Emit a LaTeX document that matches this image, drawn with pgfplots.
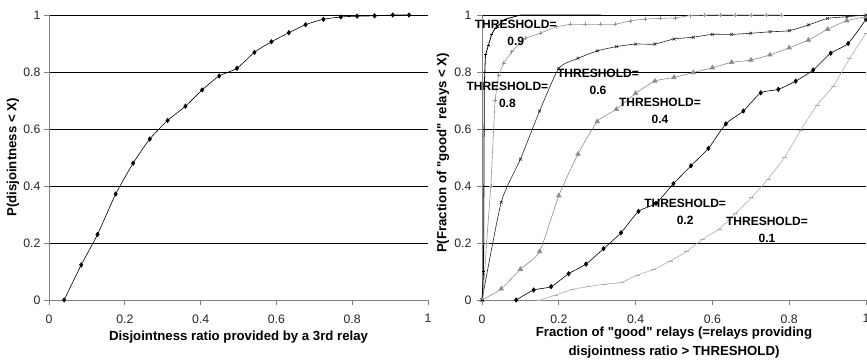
\documentclass[border=0pt]{standalone}
\usepackage{fontspec}
\setmainfont{Liberation Sans}[Ligatures=TeXOff]
\usepackage{pgfplots}
\pgfplotsset{compat=1.18}
\tikzset{thr/.style={font=\bfseries\fontsize{12}{17}\selectfont, align=center, inner sep=0pt}}
\pgfplotsset{
  myaxis/.style={
    scale only axis, anchor=south west, height=285pt,
    xmin=0, xmax=1, ymin=0, ymax=1,
    axis x line*=bottom, axis y line*=left,
    axis line style={draw=black!50, line width=0.8pt},
    xtick={0,0.2,0.4,0.6,0.8,1}, xticklabels={0,0.2,0.4,0.6,0.8,1},
    ytick={0,0.2,0.4,0.6,0.8,1}, yticklabels={0,0.2,0.4,0.6,0.8,1},
    tick align=outside, major tick length=5pt,
    tick style={draw=black!50, line width=0.8pt},
    ymajorgrids, major grid style={black, line width=0.6pt},
    ticklabel style={font=\fontsize{12.3}{14}\selectfont, text=black!85},
    xticklabel style={yshift=-6pt},
    label style={font=\bfseries\fontsize{13.2}{19}\selectfont},
    clip=false,
  },
}
\begin{document}
\begin{tikzpicture}
\path[use as bounding box] (0pt,0pt) rectangle (867pt,359pt);
\begin{axis}[myaxis, at={(49pt,59pt)}, width=379pt,
  xlabel={Disjointness ratio provided by a 3rd relay},
  ylabel={P(disjointness < X)},
  yticklabel style={xshift=0pt},
  xlabel style={at={(axis description cs:0.5,-0.13)}, anchor=center},
  ylabel style={at={(axis description cs:-0.095,0.5)}, anchor=center},
]
\addplot[black, line width=0.6pt, smooth, tension=0.35, mark=diamond*, mark size=2.2pt] coordinates {
(0.04,0) (0.085,0.123) (0.128,0.23) (0.176,0.372) (0.222,0.48) (0.266,0.565)
(0.313,0.63) (0.36,0.68) (0.404,0.737) (0.449,0.786) (0.496,0.813) (0.542,0.869)
(0.587,0.906) (0.633,0.938) (0.677,0.966) (0.724,0.985) (0.77,0.993) (0.813,0.996)
(0.859,0.997) (0.907,1) (0.95,1)};
\end{axis}
\begin{axis}[myaxis, at={(482pt,59pt)}, width=384pt,
  xlabel={Fraction of "good" relays (=relays providing\\disjointness ratio > THRESHOLD)},
  ylabel={P(Fraction of "good" relays < X)},
  yticklabel style={xshift=-2pt},
  xlabel style={at={(axis description cs:0.5,-0.149)}, anchor=center, align=center},
  ylabel style={at={(axis description cs:-0.1016,0.516)}, anchor=center},
]
% THRESHOLD=0.1
\addplot[black!32, line width=0.6pt, smooth, tension=0.35, mark=-, mark size=2.5pt] coordinates {
(0.15,0) (0.1925,0.018) (0.235,0.037) (0.2775,0.047) (0.32,0.056) (0.3625,0.061)
(0.405,0.088) (0.4475,0.107) (0.49,0.137) (0.5325,0.17) (0.575,0.214) (0.6175,0.249)
(0.66,0.304) (0.7025,0.36) (0.745,0.425) (0.7875,0.5) (0.83,0.596) (0.8725,0.684)
(0.915,0.751) (0.9575,0.848) (1.0,0.936)};
% THRESHOLD=0.2
\addplot[black, line width=0.6pt, smooth, tension=0.35, mark=diamond*, mark size=2.2pt] coordinates {
(0.089,0) (0.1345,0.035) (0.18,0.047) (0.2255,0.092) (0.271,0.126) (0.3165,0.18)
(0.362,0.236) (0.4075,0.311) (0.453,0.339) (0.4985,0.408) (0.544,0.471) (0.5895,0.532)
(0.635,0.618) (0.6805,0.663) (0.726,0.727) (0.7715,0.739) (0.817,0.768) (0.8625,0.807)
(0.908,0.866) (0.9535,0.9) (1.0,0.985)};
% THRESHOLD=0.4
\addplot[black!45, line width=0.6pt, smooth, tension=0.35, mark=triangle*, mark size=2.6pt] coordinates {
(0,0) (0.05,0.039) (0.1,0.108) (0.15,0.17) (0.2,0.366) (0.25,0.512) (0.3,0.626)
(0.35,0.669) (0.4,0.725) (0.45,0.768) (0.5,0.781) (0.55,0.798) (0.6,0.815)
(0.65,0.834) (0.7,0.842) (0.75,0.86) (0.8,0.885) (0.85,0.912) (0.9,0.95)
(0.95,0.98) (1.0,0.994)};
% THRESHOLD=0.6
\addplot[black!85, line width=0.6pt, smooth, tension=0.35, mark=x, mark size=2pt] coordinates {
(0,0) (0.05,0.343) (0.1,0.494) (0.15,0.663) (0.2,0.813) (0.25,0.848) (0.3,0.874)
(0.35,0.889) (0.4,0.898) (0.45,0.898) (0.5,0.916) (0.55,0.922) (0.6,0.932)
(0.65,0.932) (0.7,0.936) (0.75,0.941) (0.8,0.945) (0.85,0.965) (0.9,0.988)
(0.95,0.994) (1.0,1)};
% THRESHOLD=0.8
\addplot[black!42, line width=0.6pt, mark=+, mark size=2pt] coordinates {
(0.002,0) (0.012,0.2) (0.023,0.4) (0.034,0.7) (0.043,0.79) (0.056,0.83)
(0.077,0.871) (0.112,0.918) (0.151,0.936) (0.194,0.959) (0.229,0.967) (0.268,0.967)
(0.307,0.967) (0.346,0.967) (0.385,0.979) (0.424,0.986) (0.464,0.988) (0.503,0.99)
(0.542,0.998) (0.58,1) (0.62,1) (0.66,1) (0.7,1) (0.74,1) (0.78,1)};
% THRESHOLD=0.9
\addplot[black, line width=0.8pt, mark=-, mark size=1.5pt] coordinates {
(0,0) (0.004,0.1) (0.006,0.75) (0.009,0.86) (0.017,0.895) (0.025,0.932)
(0.034,0.953) (0.06,0.985) (0.1,1) (0.2,1) (0.31,1)};
\node[thr] at (axis cs:0.0878,0.9386) {THRESHOLD=\\0.9};
\node[thr] at (axis cs:0.066,0.719) {THRESHOLD=\\0.8};
\node[thr] at (axis cs:0.302,0.767) {THRESHOLD=\\0.6};
\node[thr] at (axis cs:0.4635,0.6625) {THRESHOLD=\\0.4};
\node[thr] at (axis cs:0.529,0.31) {THRESHOLD=\\0.2};
\node[thr] at (axis cs:0.742,0.2445) {THRESHOLD=\\0.1};
\end{axis}
\end{tikzpicture}
\end{document}
